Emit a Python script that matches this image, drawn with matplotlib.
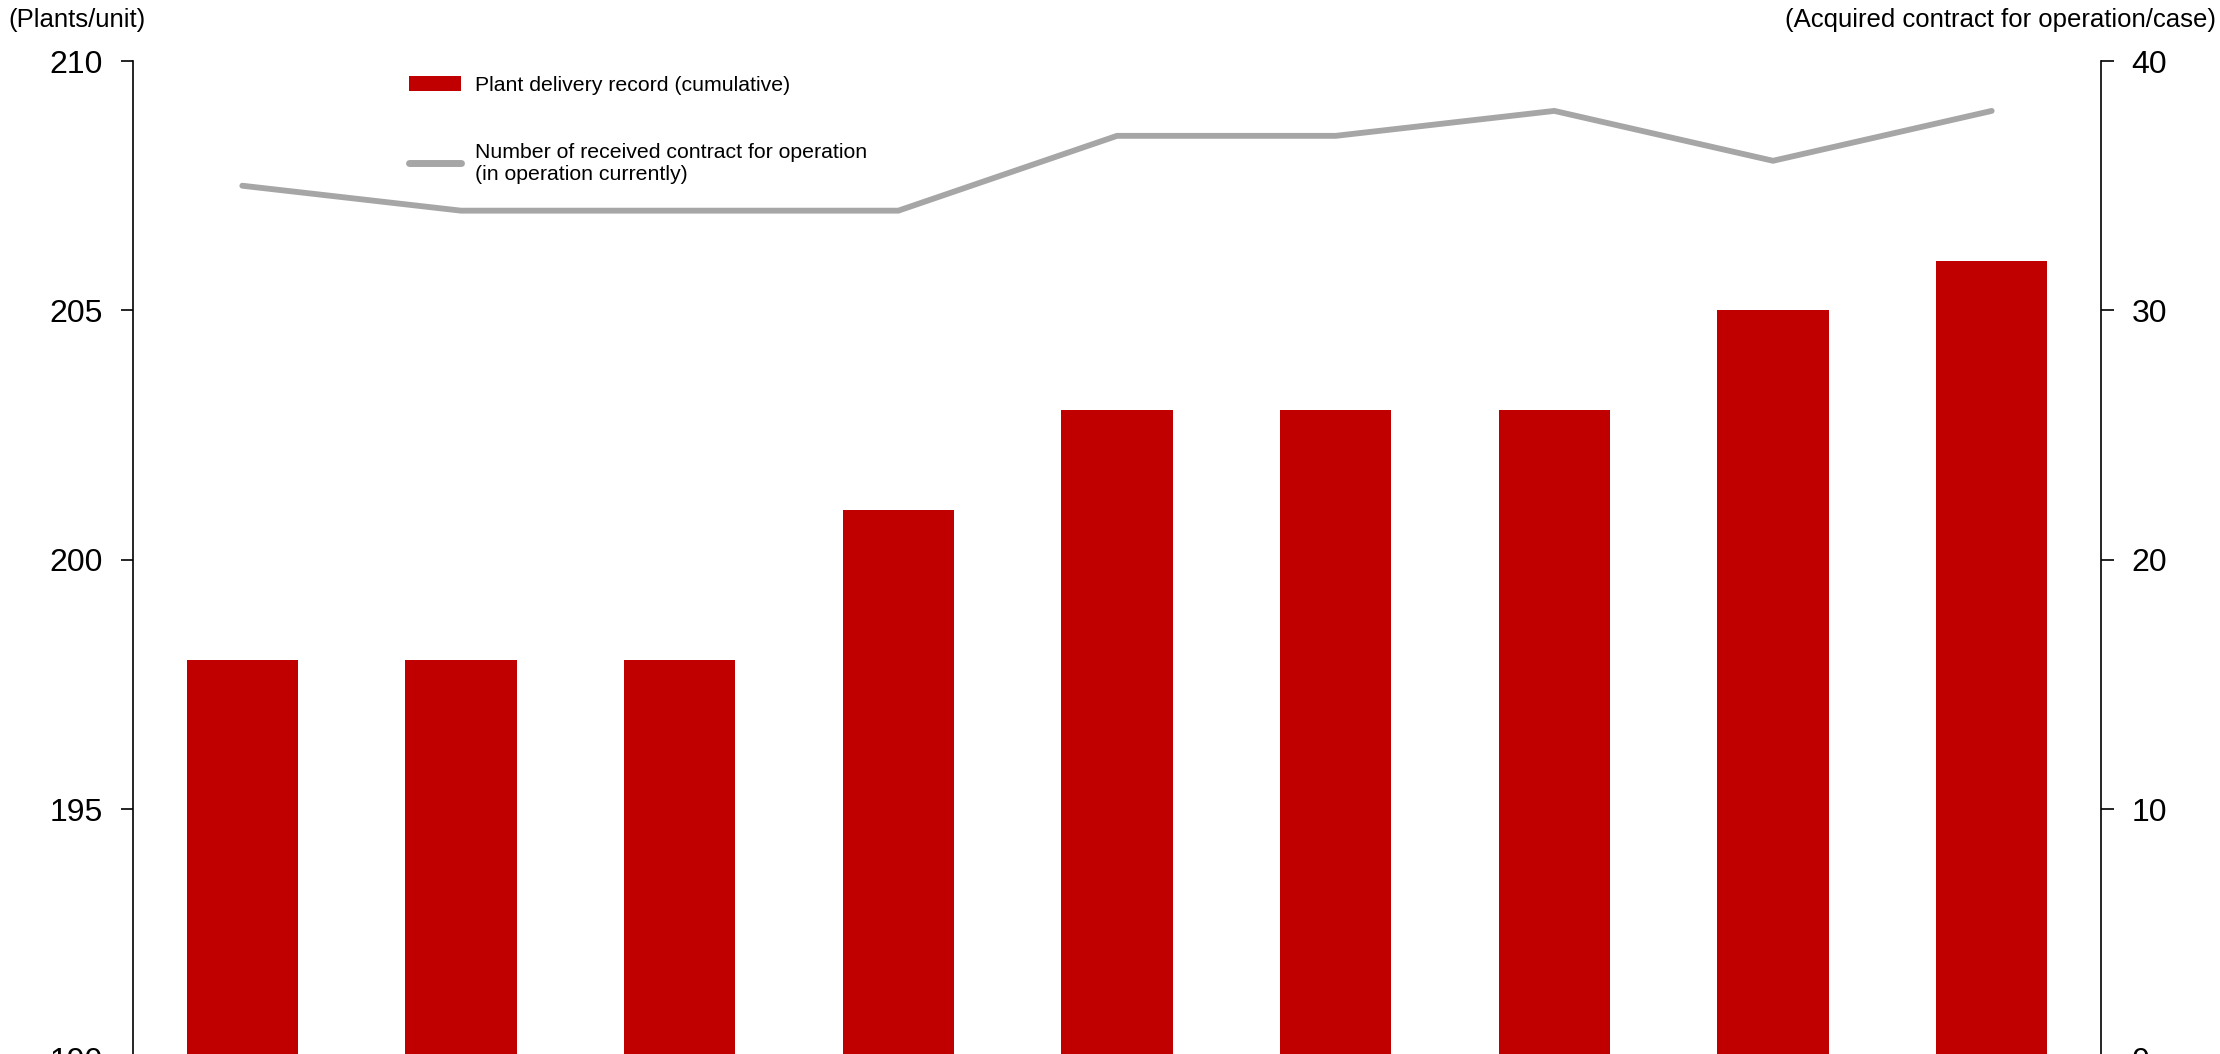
import matplotlib
matplotlib.use("Agg")
import matplotlib.pyplot as plt
from matplotlib.patches import Patch
from matplotlib.lines import Line2D
import numpy as np

plt.rcParams['font.family'] = ['Liberation Sans', 'DejaVu Sans']

# data
periods = np.arange(9)
deliveries = [198, 198, 198, 201, 203, 203, 203, 205, 206]
contracts = [35, 34, 34, 34, 37, 37, 38, 36, 38]
left_ticks = [190, 195, 200, 205, 210]
right_ticks = [0, 10, 20, 30, 40]

bar_color = '#C00000'
line_color = '#A6A6A6'

fig = plt.figure(figsize=(22.2, 10.54), dpi=100)
ax = fig.add_axes([0.0599, -0.0044, 0.8865, 0.9465])

ax.bar(periods, deliveries, width=0.51, color=bar_color, zorder=2)
ax.set_xlim(-0.5, 8.5)
ax.set_ylim(190, 210)
ax.set_yticks(left_ticks)
ax.set_xticks([])

ax2 = ax.twinx()
ax2.plot(periods, contracts, color=line_color, lw=4.2, solid_capstyle='round',
         solid_joinstyle='miter', zorder=3)
ax2.set_ylim(0, 40)
ax2.set_yticks(right_ticks)

for a in (ax, ax2):
    for s in ('top', 'bottom'):
        a.spines[s].set_visible(False)
    a.tick_params(axis='y', length=9, width=1.2, pad=13, labelsize=23, colors='black')
ax.spines['right'].set_visible(False)
ax2.spines['left'].set_visible(False)
ax.spines['left'].set_linewidth(1.2)
ax2.spines['right'].set_linewidth(1.2)

fig.text(8 / 2220, 1 - 20 / 1054, "(Plants/unit)", ha='left', va='center', fontsize=18.5)
fig.text(2216 / 2220, 1 - 20 / 1054, "(Acquired contract for operation/case)",
         ha='right', va='center', fontsize=18.5)

handles = [Patch(facecolor=bar_color, edgecolor='none'),
           Line2D([0], [0], color=line_color, lw=5, solid_capstyle='round')]
labels = ["Plant delivery record (cumulative)",
          "Number of received contract for operation\n(in operation currently)"]
fig.legend(handles, labels, loc='upper left', bbox_to_anchor=(409 / 2220, 1 - 76 / 1054),
           frameon=False, fontsize=15.3, handlelength=2.45, handleheight=0.7,
           handletextpad=0.66, labelspacing=2.25, borderpad=0, borderaxespad=0)

fig.savefig("out.png", dpi=100)
